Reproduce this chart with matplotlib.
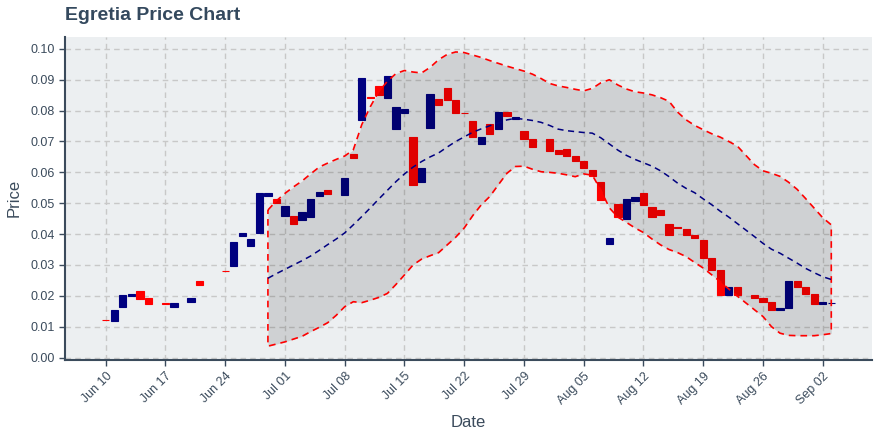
import numpy as np
import pandas as pd
import matplotlib
matplotlib.use("Agg")
import matplotlib.pyplot as plt
import matplotlib.dates as mdates

plt.rcParams['font.family'] = ['Liberation Sans', 'DejaVu Sans']

# daily candles, Jun 10 .. Sep 03 (None = no candle drawn)
dates = pd.date_range('2018-06-10', periods=86, freq='D')
opens = [0.0123, 0.0120, 0.0165, 0.0198, 0.0216, 0.0193, None, 0.0177, 0.0165, None,
         0.0181, 0.0248, None, None, 0.0282, 0.0298, 0.0395, 0.0360, 0.0405, 0.0522,
         0.0515, 0.0460, 0.0459, 0.0447, 0.0457, 0.0525, 0.0543, None, 0.0528, 0.0660,
         0.0771, 0.0843, 0.0880, 0.0841, 0.0741, 0.0793, 0.0715, 0.0569, 0.0744, 0.0838,
         0.0874, 0.0835, 0.0793, 0.0767, 0.0692, 0.0757, 0.0741, 0.0796, 0.0773, 0.0734,
         0.0708, None, 0.0708, 0.0673, 0.0676, 0.0653, 0.0637, 0.0608, 0.0569, 0.0368,
         0.0498, 0.0449, 0.0508, 0.0534, 0.0488, 0.0478, 0.0433, 0.0423, 0.0417, 0.0398,
         0.0381, 0.0323, 0.0284, 0.0203, 0.0229, None, 0.0203, 0.0193, 0.0180, 0.0155,
         0.0161, 0.0248, 0.0229, 0.0206, 0.0175, 0.0176]
closes = [0.0121, 0.0155, 0.0203, 0.0206, 0.0191, 0.0174, None, 0.0175, 0.0177, None,
          0.0193, 0.0236, None, None, 0.0280, 0.0375, 0.0404, 0.0385, 0.0534, 0.0534,
          0.0500, 0.0491, 0.0434, 0.0472, 0.0514, 0.0537, 0.0531, None, 0.0582, 0.0648,
          0.0906, 0.0841, 0.0852, 0.0913, 0.0812, 0.0806, 0.0559, 0.0615, 0.0854, 0.0819,
          0.0835, 0.0793, 0.0791, 0.0715, 0.0715, 0.0725, 0.0796, 0.0783, 0.0780, 0.0708,
          0.0682, None, 0.0670, 0.0660, 0.0653, 0.0637, 0.0615, 0.0589, 0.0511, 0.0388,
          0.0456, 0.0514, 0.0521, 0.0495, 0.0456, 0.0463, 0.0398, 0.0419, 0.0398, 0.0388,
          0.0323, 0.0284, 0.0203, 0.0229, 0.0203, None, 0.0193, 0.0180, 0.0155, 0.0161,
          0.0248, 0.0229, 0.0206, 0.0174, 0.0179, 0.0177]

# bollinger band, Jun 29 .. Sep 03
band_dates = dates[19:]
upper = [0.0478, 0.0508, 0.0532, 0.0553, 0.0572, 0.0595, 0.0617, 0.0630, 0.0642, 0.0653,
         0.0673, 0.0755, 0.0813, 0.0862, 0.0895, 0.0920, 0.0930, 0.0925, 0.0922, 0.0940,
         0.0965, 0.0982, 0.0990, 0.0988, 0.0980, 0.0972, 0.0962, 0.0953, 0.0944, 0.0936,
         0.0928, 0.0918, 0.0904, 0.0888, 0.0880, 0.0875, 0.0869, 0.0864, 0.0872, 0.0890,
         0.0900, 0.0883, 0.0870, 0.0861, 0.0857, 0.0851, 0.0842, 0.0830, 0.0795, 0.0770,
         0.0752, 0.0738, 0.0725, 0.0714, 0.0700, 0.0685, 0.0655, 0.0625, 0.0605, 0.0597,
         0.0587, 0.0568, 0.0545, 0.0515, 0.0484, 0.0453, 0.0430]
middle = [0.0257, 0.0272, 0.0286, 0.0300, 0.0314, 0.0329, 0.0347, 0.0366, 0.0384, 0.0404,
          0.0430, 0.0457, 0.0485, 0.0514, 0.0542, 0.0570, 0.0595, 0.0617, 0.0635, 0.0650,
          0.0663, 0.0682, 0.0700, 0.0715, 0.0730, 0.0741, 0.0751, 0.0760, 0.0770, 0.0775,
          0.0772, 0.0768, 0.0762, 0.0752, 0.0740, 0.0735, 0.0732, 0.0729, 0.0727, 0.0712,
          0.0692, 0.0672, 0.0655, 0.0642, 0.0631, 0.0620, 0.0605, 0.0586, 0.0565, 0.0548,
          0.0534, 0.0514, 0.0495, 0.0474, 0.0455, 0.0434, 0.0413, 0.0392, 0.0370, 0.0351,
          0.0338, 0.0322, 0.0306, 0.0289, 0.0275, 0.0262, 0.0253]
lower = [0.0037, 0.0044, 0.0051, 0.0060, 0.0069, 0.0084, 0.0098, 0.0113, 0.0137, 0.0165,
         0.0181, 0.0178, 0.0186, 0.0195, 0.0208, 0.0237, 0.0268, 0.0300, 0.0319, 0.0330,
         0.0340, 0.0365, 0.0390, 0.0420, 0.0460, 0.0495, 0.0522, 0.0560, 0.0597, 0.0619,
         0.0620, 0.0610, 0.0602, 0.0600, 0.0597, 0.0592, 0.0586, 0.0595, 0.0591, 0.0543,
         0.0485, 0.0455, 0.0438, 0.0420, 0.0405, 0.0384, 0.0365, 0.0350, 0.0340, 0.0327,
         0.0308, 0.0290, 0.0268, 0.0246, 0.0222, 0.0199, 0.0177, 0.0155, 0.0133, 0.0100,
         0.0079, 0.0072, 0.0071, 0.0071, 0.0071, 0.0074, 0.0078]

txt = '#3b4b5c'
fig = plt.figure(figsize=(8.8, 4.4), dpi=100)
ax = fig.add_axes([0.0739, 0.182, 0.917, 0.735])
ax.set_facecolor('#eceff1')

# candles
for d, o, c in zip(dates, opens, closes):
    if o is None:
        continue
    col = 'navy' if c >= o else 'red'
    ax.bar(d, abs(c - o), bottom=min(o, c), width=0.85, color=col,
           edgecolor=col, linewidth=0.8, zorder=2)

# band
ax.fill_between(band_dates, lower, upper, color='black', alpha=0.12, linewidth=0, zorder=3)
edge_x = list(band_dates) + list(band_dates[::-1]) + [band_dates[0]]
edge_y = list(upper) + list(lower[::-1]) + [upper[0]]
ax.plot(edge_x, edge_y, color='red', linestyle='--', dashes=(4, 3), linewidth=1.2, zorder=4)
ax.plot(band_dates, middle, color='navy', linestyle='--', dashes=(4, 3), linewidth=1.1, zorder=4)

ax.set_xlim(dates[0] - pd.Timedelta(days=4.77), dates[0] + pd.Timedelta(days=89.77))
ax.set_ylim(-0.00075, 0.104)
ax.set_yticks(np.arange(0, 0.101, 0.01))
ax.yaxis.set_major_formatter(plt.FormatStrFormatter('%.2f'))
ax.xaxis.set_major_locator(mdates.WeekdayLocator(byweekday=mdates.SU))
ax.xaxis.set_major_formatter(mdates.DateFormatter('%b %d'))
plt.setp(ax.get_xticklabels(), rotation=45, ha='right', rotation_mode='anchor')

ax.grid(True, color='#c8c8c8', linestyle='--', dashes=(4, 3), linewidth=1, zorder=0)
ax.set_axisbelow(True)
for s in ['top', 'right']:
    ax.spines[s].set_visible(False)
for s in ['left', 'bottom']:
    ax.spines[s].set_color('#3b4b5c')
    ax.spines[s].set_linewidth(1.5)
ax.tick_params(colors=txt, labelsize=9, length=4, width=1)

ax.set_xlabel('Date', fontsize=12, color=txt, labelpad=6)
ax.set_ylabel('Price', fontsize=12, color=txt, labelpad=6)
fig.text(0.074, 0.965, 'Egretia Price Chart', fontsize=14, fontweight='bold',
         color='#34495e', ha='left', va='center')

fig.savefig('out.png', dpi=100)
